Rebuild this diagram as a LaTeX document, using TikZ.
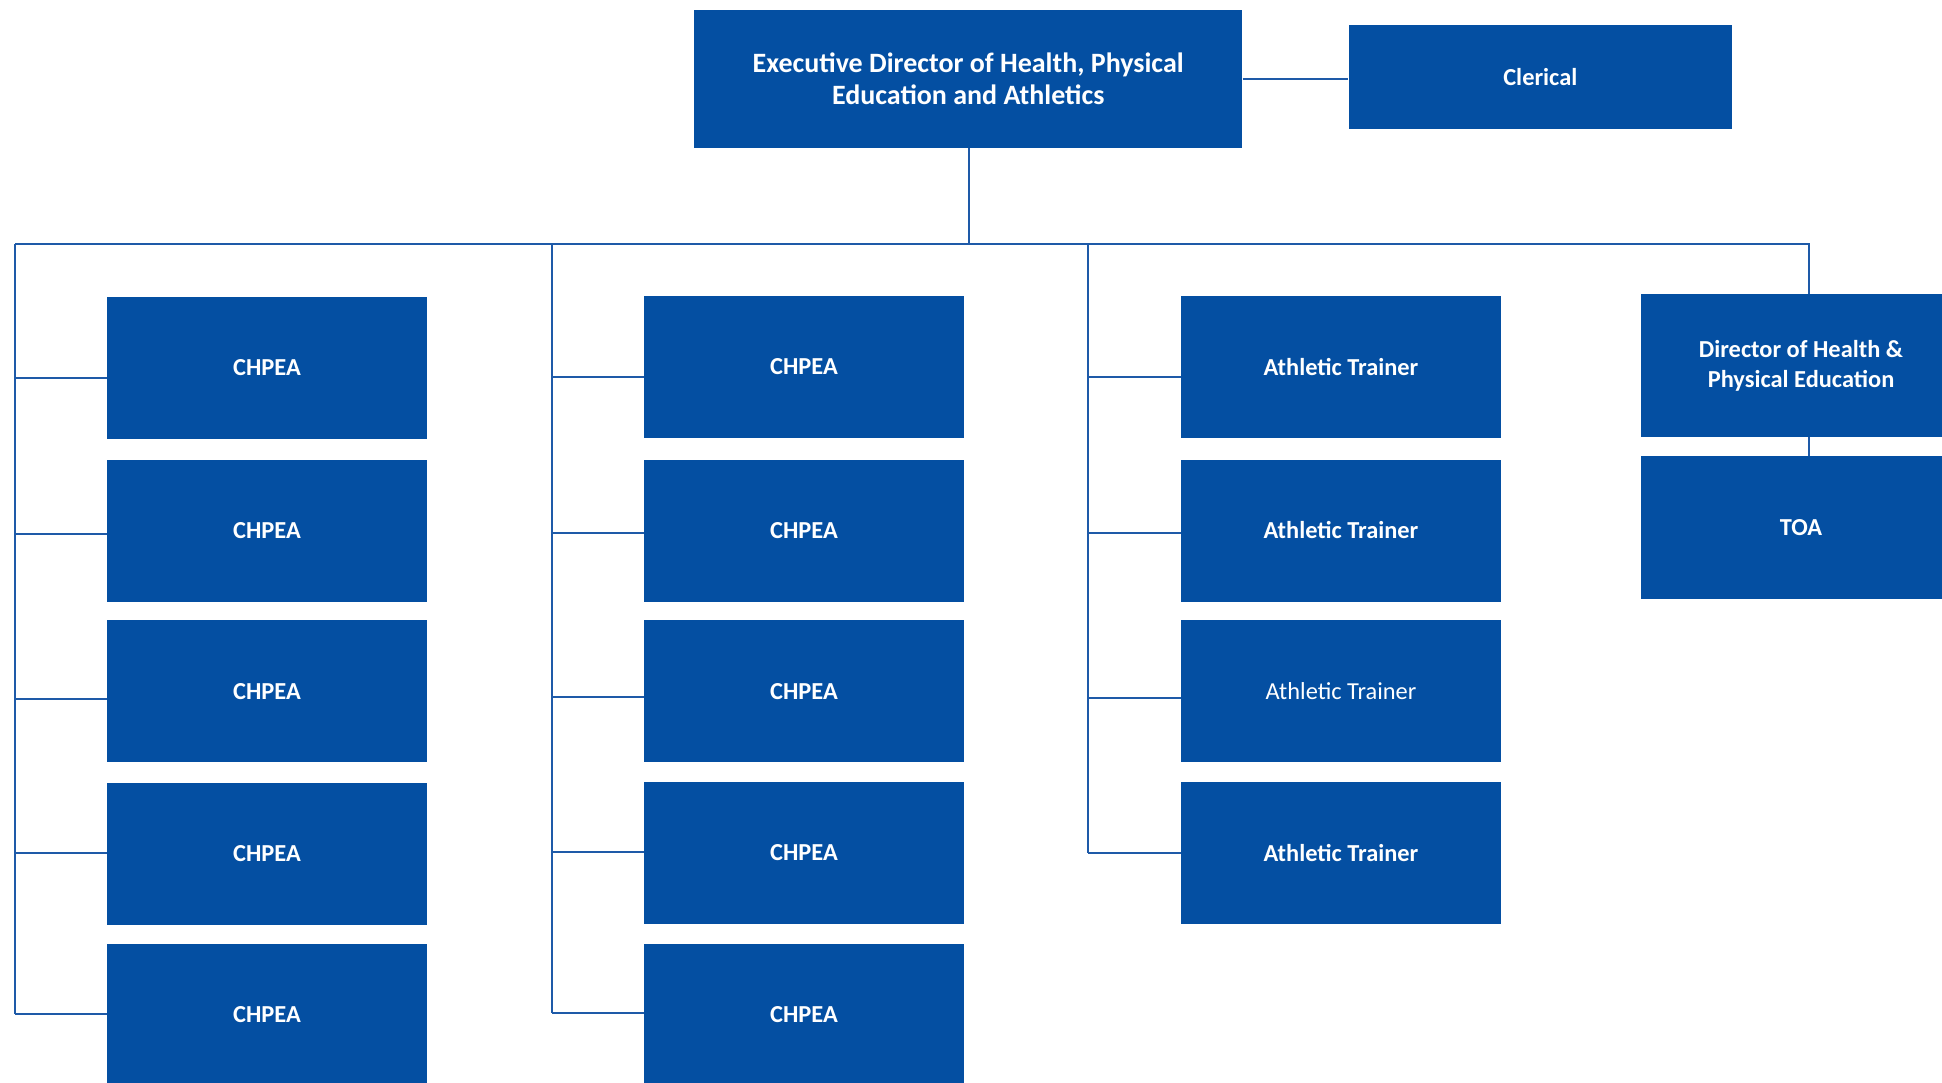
\documentclass[tikz,border=0pt]{standalone}
\usepackage{fontspec}
\setmainfont{Carlito}
\definecolor{boxblue}{HTML}{044FA2}
\definecolor{lineblue}{HTML}{1E5AA8}
\begin{document}
\begin{tikzpicture}[x=1pt,y=-1pt,
  box/.style={fill=boxblue,draw=none,text=white,font=\fontsize{24.4}{29.8}\selectfont\bfseries,align=center,inner sep=0pt,minimum width=320pt,minimum height=142pt},
  link/.style={draw=lineblue,line width=2pt}]
\useasboundingbox (0,0) rectangle (1942,1083);
% top
\node[box,minimum width=548.5pt,minimum height=137.7pt,font=\fontsize{28}{32.5}\selectfont\bfseries] (exec) at (968.2,78.8) {Executive Director of Health, Physical\\Education and Athletics};
\node[box,minimum width=383.3pt,minimum height=104.5pt] (cler) at (1540.3,77.2) {Clerical};
% column 1
\node[box] (a1) at (267,368) {CHPEA};
\node[box] (a2) at (267,531) {CHPEA};
\node[box] (a3) at (267,691.3) {CHPEA};
\node[box] (a4) at (267,854) {CHPEA};
\node[box] (a5) at (267,1015) {CHPEA};
% column 2
\node[box] (b1) at (804,367) {CHPEA};
\node[box] (b2) at (804,530.5) {CHPEA};
\node[box] (b3) at (804,691.3) {CHPEA};
\node[box] (b4) at (804,853) {CHPEA};
\node[box] (b5) at (804,1015) {CHPEA};
% column 3
\node[box] (t1) at (1341,367) {Athletic Trainer};
\node[box] (t2) at (1341,530.5) {Athletic Trainer};
\node[box,font=\fontsize{24.4}{29.8}\selectfont] (t3) at (1341,691) {Athletic Trainer};
\node[box] (t4) at (1341,853) {Athletic Trainer};
% column 4
\node[box,minimum height=143pt] (dir) at (1801,365.5) {Director of Health \&\\Physical Education};
\node[box,minimum height=143pt] (toa) at (1801,527.5) {TOA};
% bus
\coordinate (busL) at (15,244.3);
\coordinate (busR) at (1808.7,244.3);
\coordinate (c2) at (551.6,244.3);
\coordinate (c3) at (1088,244.3);
\coordinate (cx) at (968.5,244.3);
\draw[link] (exec.east |- 0,78.7) -- (cler.west |- 0,78.7);
\draw[link] (exec.south -| cx) -- (cx);
\draw[link] (busL) -- (busR) -- (dir.north -| busR);
\draw[link] (dir.south -| busR) -- (toa.north -| busR);
% column 1 connectors
\draw[link] (busL) -- (busL |- 0,1014.3);
\draw[link] (busL |- 0,377.7) -- (a1.west |- 0,377.7);
\draw[link] (busL |- 0,533.8) -- (a2.west |- 0,533.8);
\draw[link] (busL |- 0,698.5) -- (a3.west |- 0,698.5);
\draw[link] (busL |- 0,853.3) -- (a4.west |- 0,853.3);
\draw[link] (busL |- 0,1014.3) -- (a5.west |- 0,1014.3);
% column 2 connectors
\draw[link] (c2) -- (c2 |- 0,1013.1);
\draw[link] (c2 |- 0,376.5) -- (b1.west |- 0,376.5);
\draw[link] (c2 |- 0,532.6) -- (b2.west |- 0,532.6);
\draw[link] (c2 |- 0,697.3) -- (b3.west |- 0,697.3);
\draw[link] (c2 |- 0,852.1) -- (b4.west |- 0,852.1);
\draw[link] (c2 |- 0,1013.1) -- (b5.west |- 0,1013.1);
% column 3 connectors
\draw[link] (c3) -- (c3 |- 0,853);
\draw[link] (c3 |- 0,376.5) -- (t1.west |- 0,376.5);
\draw[link] (c3 |- 0,532.6) -- (t2.west |- 0,532.6);
\draw[link] (c3 |- 0,697.7) -- (t3.west |- 0,697.7);
\draw[link] (c3 |- 0,853) -- (t4.west |- 0,853);
\end{tikzpicture}
\end{document}
